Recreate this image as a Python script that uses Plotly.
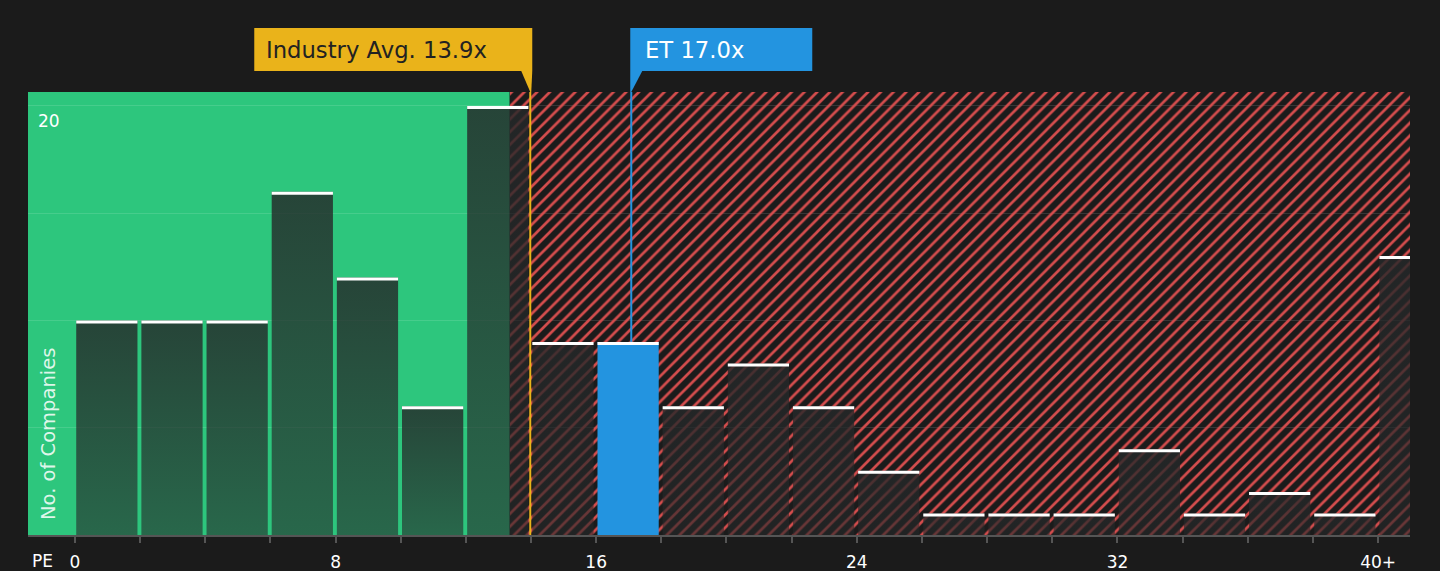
import plotly.graph_objects as go

# PE histogram data (bins of width 2, last bin is 40+)
bin_starts = list(range(0, 42, 2))
counts = [10, 10, 10, 16, 12, 6, 20, 9, 9, 6, 8, 6, 3, 1, 1, 1, 4, 1, 2, 1, 13]
tick_vals = list(range(0, 42, 2))
tick_labels = {0: "0", 8: "8", 16: "16", 24: "24", 32: "32", 40: "40+"}
tick_text = [tick_labels.get(v, "") for v in tick_vals]

industry_avg = 13.9
company = "ET"
company_pe = 17.0
company_bin = 16
fair_edge = 13.34  # where the green zone stops

x_range = [-1.44, 40.98]
y_top = 20.65

BG = "#1b1b1b"
GREEN = "#2dc67d"
RED = "#d44d4d"
GOLD = "#eab31a"
BLUE = "#2394e0"
FONT = "DejaVu Sans"

fig = go.Figure()

# red hatched zone (overvalued side)
fig.add_trace(go.Bar(
    x=[(fair_edge + x_range[1] + 1) / 2], y=[y_top],
    width=[x_range[1] + 1 - fair_edge],
    marker=dict(color="rgba(0,0,0,0)", line_width=0,
                pattern=dict(shape="/", fgcolor=RED, bgcolor="rgba(0,0,0,0)",
                             size=9, solidity=0.3, fillmode="replace")),
    hoverinfo="skip", showlegend=False,
))

# histogram bars, one polygon each so the gradient is per bar
for start, n in zip(bin_starts, counts):
    x0, x1 = start + 0.04, start + 1.92
    kw = dict(fillcolor=BLUE) if start == company_bin else dict(
        fillgradient=dict(type="vertical",
                          colorscale=[[0, "rgba(37,40,41,0.6)"], [1, "rgba(37,40,41,0.82)"]]))
    fig.add_trace(go.Scatter(
        x=[x0, x0, x1, x1, x0], y=[0, n, n, 0, 0],
        mode="none", fill="toself", hoverinfo="skip", showlegend=False, **kw,
    ))

# white caps on top of each bar
cap_x, cap_y = [], []
for start, n in zip(bin_starts, counts):
    cap_x += [start + 0.04, start + 1.92, None]
    cap_y += [n - 0.07, n - 0.07, None]
fig.add_trace(go.Scatter(x=cap_x, y=cap_y, mode="lines",
                         line=dict(color="white", width=3),
                         hoverinfo="skip", showlegend=False))

shift = 2.5  # marker lines sit a touch right of the value
shapes = [
    dict(type="rect", xref="x", yref="paper", x0=x_range[0], x1=fair_edge, y0=0, y1=1,
         fillcolor=GREEN, line_width=0, layer="below"),
    # industry avg marker
    dict(type="line", xref="x", yref="paper", xsizemode="pixel", xanchor=industry_avg,
         x0=shift, x1=shift, y0=0, y1=1, line=dict(color=GOLD, width=2)),
    dict(type="rect", xref="x", yref="paper", xsizemode="pixel", xanchor=industry_avg,
         ysizemode="pixel", yanchor=1, x0=shift - 276, x1=shift + 2, y0=21, y1=64,
         fillcolor=GOLD, line_width=0),
    dict(type="path", xref="x", yref="paper", xsizemode="pixel", xanchor=industry_avg,
         ysizemode="pixel", yanchor=1,
         path=f"M {shift - 9},21 L {shift + 2},21 L {shift + 1},0 L {shift},0 Z",
         fillcolor=GOLD, line_width=0),
    # company marker
    dict(type="line", xref="x", yref="y", xsizemode="pixel", xanchor=company_pe,
         x0=shift, x1=shift, y0=counts[bin_starts.index(company_bin)], y1=y_top,
         line=dict(color=BLUE, width=2)),
    dict(type="rect", xref="x", yref="paper", xsizemode="pixel", xanchor=company_pe,
         ysizemode="pixel", yanchor=1, x0=shift - 1, x1=shift + 181, y0=21, y1=64,
         fillcolor=BLUE, line_width=0),
    dict(type="path", xref="x", yref="paper", xsizemode="pixel", xanchor=company_pe,
         ysizemode="pixel", yanchor=1,
         path=f"M {shift - 1},21 L {shift + 11},21 L {shift},0 L {shift - 1},0 Z",
         fillcolor=BLUE, line_width=0),
]

annotations = [
    dict(text=f"Industry Avg. {industry_avg}x", xref="x", x=industry_avg, xanchor="left",
         xshift=-264, yref="paper", y=1, yanchor="middle", yshift=42.5, showarrow=False,
         font=dict(family=FONT, size=22.7, color="#222222")),
    dict(text=f"{company} {company_pe}x", xref="x", x=company_pe, xanchor="left",
         xshift=14, yref="paper", y=1, yanchor="middle", yshift=42.5, showarrow=False,
         font=dict(family=FONT, size=22.7, color="white")),
    dict(text="20", xref="paper", x=0, xanchor="left", xshift=8, yref="y", y=20,
         yanchor="top", yshift=-3, showarrow=False,
         font=dict(family=FONT, size=17, color="white")),
    dict(text="No. of Companies", xref="paper", x=0, xanchor="center", xshift=20,
         yref="paper", y=0, yanchor="bottom", yshift=13, textangle=-90, showarrow=False,
         font=dict(family=FONT, size=19.5, color="rgba(255,255,255,0.85)")),
    dict(text="PE", xref="paper", x=0, xanchor="center", xshift=14, yref="paper", y=0,
         yanchor="middle", yshift=-26, showarrow=False,
         font=dict(family=FONT, size=17, color="white")),
]

fig.update_layout(
    width=1440, height=571,
    margin=dict(l=28, r=30, t=92, b=36),
    paper_bgcolor=BG, plot_bgcolor=BG,
    barmode="overlay", bargap=0,
    shapes=shapes, annotations=annotations,
    font=dict(family=FONT, color="white"),
    xaxis=dict(range=x_range, tickvals=tick_vals, ticktext=tick_text,
               ticks="outside", ticklen=6, tickwidth=2, tickcolor="#555555",
               showline=True, linecolor="#555555", linewidth=2,
               showgrid=False, zeroline=False, automargin=False,
               ticklabelstandoff=5, tickfont=dict(family=FONT, size=17, color="white")),
    yaxis=dict(range=[0, y_top], tickvals=[5, 10, 15, 20], showticklabels=False,
               gridcolor="rgba(255,255,255,0.12)", gridwidth=1, zeroline=False,
               showline=False, automargin=False),
)

# drop the default page margin so the figure fills the window
fig.write_html("out.html", config={"displayModeBar": False},
               post_script="document.body.style.margin='0';"
                           "document.body.style.background='#1b1b1b';"
                           "document.body.style.overflow='hidden';")
